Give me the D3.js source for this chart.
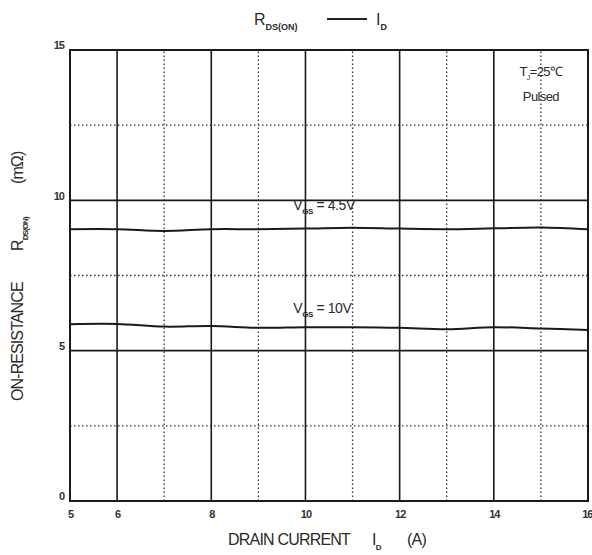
<!DOCTYPE html>
<html>
<head>
<meta charset="utf-8">
<script src="https://cdn.jsdelivr.net/npm/d3@7"></script>
<style>
  body { margin: 0; background: #fff; }
  svg { display: block; font-family: "Liberation Sans", Arial, sans-serif; }
</style>
</head>
<body>
<svg id="chart" width="592" height="555"></svg>
<script>
// ---- data ----
const drainCurrent = [5, 6, 7, 8, 9, 10, 11, 12, 13, 14, 15, 16];
const rdsVgs45 = [9.04, 9.04, 8.98, 9.04, 9.04, 9.06, 9.09, 9.06, 9.04, 9.07, 9.10, 9.04];
const rdsVgs10 = [5.88, 5.89, 5.80, 5.82, 5.76, 5.78, 5.78, 5.76, 5.71, 5.78, 5.74, 5.69];
const xTickValues = [5, 6, 8, 10, 12, 14, 16];
const xMajorGrid = [6, 8, 10, 12, 14];
const xMinorGrid = [7, 9, 11, 13, 15];
const yTickValues = [0, 5, 10, 15];
const yMajorGrid = [5, 10];
const yMinorGrid = [2.5, 7.5, 12.5];

// ---- layout ----
const svg = d3.select("#chart");
const margin = { left: 70, right: 4, top: 50, bottom: 54 };
const W = 592, H = 555;
const x = d3.scaleLinear().domain([5, 16]).range([margin.left, W - margin.right]);
const y = d3.scaleLinear().domain([0, 15]).range([H - margin.bottom, margin.top]);
const ink = "#1a1a1a";
const txt = "#2a2a2a";

const g = svg.append("g");

// minor dotted grid
g.selectAll(".vminor").data(xMinorGrid).join("line")
  .attr("x1", d => x(d)).attr("x2", d => x(d))
  .attr("y1", y(0)).attr("y2", y(15))
  .attr("stroke", "#333").attr("stroke-width", 1.3).attr("stroke-dasharray", "1.5,2.5");
g.selectAll(".hminor").data(yMinorGrid).join("line")
  .attr("x1", x(5)).attr("x2", x(16))
  .attr("y1", d => y(d)).attr("y2", d => y(d))
  .attr("stroke", "#333").attr("stroke-width", 1.3).attr("stroke-dasharray", "1.5,2.5");

// major grid
g.selectAll(".vmajor").data(xMajorGrid).join("line")
  .attr("x1", d => x(d)).attr("x2", d => x(d))
  .attr("y1", y(0)).attr("y2", y(15))
  .attr("stroke", ink).attr("stroke-width", 1.6);
g.selectAll(".hmajor").data(yMajorGrid).join("line")
  .attr("x1", x(5)).attr("x2", x(16))
  .attr("y1", d => y(d)).attr("y2", d => y(d))
  .attr("stroke", ink).attr("stroke-width", 1.6);

// frame
g.append("rect")
  .attr("x", x(5)).attr("y", y(15))
  .attr("width", x(16) - x(5)).attr("height", y(0) - y(15))
  .attr("fill", "none").attr("stroke", ink).attr("stroke-width", 2);

// axes (tick labels only)
const xAxis = d3.axisBottom(x).tickValues(xTickValues).tickSize(0).tickPadding(9).tickFormat(d3.format("d"));
const gx = svg.append("g").attr("transform", `translate(0,${y(0)})`).call(xAxis);
gx.select(".domain").remove();
gx.selectAll("text").attr("font-size", 11).attr("font-weight", "bold").attr("fill", "#333")
  .attr("letter-spacing", "-1").attr("font-family", "'Liberation Sans', Arial, sans-serif");
gx.selectAll("text").filter(d => d === 16).attr("text-anchor", "end").attr("dx", 4);

const yAxis = d3.axisLeft(y).tickValues(yTickValues).tickSize(0).tickPadding(6).tickFormat(d3.format("d"));
const gy = svg.append("g").attr("transform", `translate(${x(5)},0)`).call(yAxis);
gy.select(".domain").remove();
gy.selectAll("text").attr("font-size", 11).attr("font-weight", "bold").attr("fill", "#333")
  .attr("letter-spacing", "-1").attr("dy", "-0.1em").attr("font-family", "'Liberation Sans', Arial, sans-serif");

// curves
const line = d3.line().x((d, i) => x(drainCurrent[i])).y(d => y(d)).curve(d3.curveCatmullRom.alpha(0.5));
[rdsVgs45, rdsVgs10].forEach(s => {
  svg.append("path").datum(s).attr("d", line)
    .attr("fill", "none").attr("stroke", ink).attr("stroke-width", 2);
});

// curve labels
function vgsLabel(xv, yv, val) {
  const t = svg.append("text").attr("x", x(xv)).attr("y", y(yv))
    .attr("font-size", 14).attr("fill", txt).attr("letter-spacing", "-0.4");
  t.append("tspan").text("V");
  t.append("tspan").attr("font-size", 8).attr("font-weight", "bold").attr("dy", 4).text("GS");
  t.append("tspan").attr("dy", -4).text(" = " + val);
}
vgsLabel(9.74, 9.68, "4.5V");
vgsLabel(9.74, 6.25, "10V");

// annotation
const ann = svg.append("text").attr("x", x(15.0)).attr("y", 76).attr("text-anchor", "middle")
  .attr("font-size", 13).attr("fill", txt).attr("letter-spacing", "-0.6");
ann.append("tspan").text("T");
ann.append("tspan").attr("font-size", 7).attr("dy", 4).text("J");
ann.append("tspan").attr("dy", -4).text("=25℃");
svg.append("text").attr("x", x(15.0)).attr("y", 101).attr("text-anchor", "middle")
  .attr("font-size", 13).attr("fill", txt).attr("letter-spacing", "-0.6").text("Pulsed");

// title
const title = svg.append("text").attr("x", 254).attr("y", 25)
  .attr("font-size", 16).attr("fill", txt);
title.append("tspan").text("R");
title.append("tspan").attr("font-size", 9).attr("font-weight", "bold").attr("dy", 5).text("DS(ON)");
svg.append("line").attr("x1", 327).attr("x2", 367).attr("y1", 19).attr("y2", 19)
  .attr("stroke", "#222").attr("stroke-width", 2);
const t2 = svg.append("text").attr("x", 376).attr("y", 25).attr("font-size", 16).attr("fill", txt);
t2.append("tspan").text("I");
t2.append("tspan").attr("font-size", 9).attr("font-weight", "bold").attr("dy", 5).text("D");

// x axis title
const xt = svg.append("text").attr("x", 228).attr("y", 545)
  .attr("font-size", 16).attr("fill", txt).attr("letter-spacing", "-0.8");
xt.append("tspan").text("DRAIN CURRENT");
xt.append("tspan").attr("x", 372).text("I");
xt.append("tspan").attr("font-size", 8).attr("font-weight", "bold").attr("dy", 5).text("D");
xt.append("tspan").attr("x", 407).attr("dy", -5).text("(A)");

// y axis title (rotated)
const yt = svg.append("text").attr("transform", "translate(23,401) rotate(-90)")
  .attr("font-size", 16).attr("fill", txt).attr("letter-spacing", "-0.9");
yt.append("tspan").text("ON-RESISTANCE");
yt.append("tspan").attr("x", 150).text("R");
yt.append("tspan").attr("font-size", 8).attr("font-weight", "bold").attr("dy", 5).text("DS(ON)");
yt.append("tspan").attr("x", 217).attr("dy", -5).text("(mΩ)");
</script>
</body>
</html>
